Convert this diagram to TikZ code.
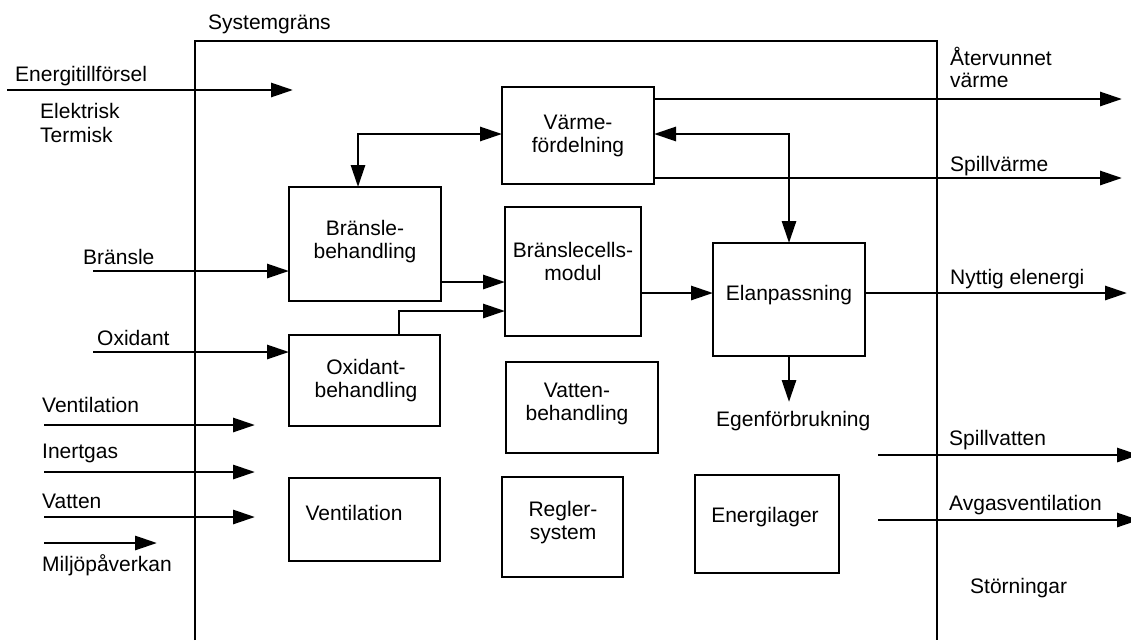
\documentclass[tikz,border=0pt]{standalone}
\usepackage{fontspec}
\setmainfont{Liberation Sans}
\usetikzlibrary{arrows.meta}

\tikzset{
  blk/.style={draw, line width=2.9pt, inner sep=0pt, outer sep=0pt},
  txt/.style={align=center, inner sep=0pt, font=\fontsize{21}{23}\selectfont},
  lbl/.style={anchor=base west, inner sep=0pt, font=\fontsize{21}{23}\selectfont},
  arr/.style={line width=2.9pt, -{Triangle[length=22pt,width=14pt]}},
  dbl/.style={line width=2.9pt, {Triangle[length=22pt,width=14pt]}-{Triangle[length=22pt,width=14pt]}},
}

\begin{document}
\begin{tikzpicture}[x=1pt,y=-1pt]
\useasboundingbox (0,0) rectangle (1131,640);

% System boundary
\draw[line width=2.9pt] (195,640) -- (195,41) -- (937,41) -- (937,640);
\node[lbl] (sg) at (208,29) {Systemgräns};

% Boxes
\node[blk, minimum width=152pt, minimum height=97pt] (vf) at (578,135.5) {};
\node[blk, minimum width=152pt, minimum height=114pt] (bb) at (365,244) {};
\node[blk, minimum width=136pt, minimum height=129pt] (bm) at (573,271.5) {};
\node[blk, minimum width=151pt, minimum height=91pt] (ob) at (364.5,380.5) {};
\node[blk, minimum width=152pt, minimum height=113pt] (el) at (789,299.5) {};
\node[blk, minimum width=152pt, minimum height=91pt] (vb) at (582,407.5) {};
\node[blk, minimum width=151pt, minimum height=83pt] (ve) at (364.5,519.5) {};
\node[blk, minimum width=121pt, minimum height=100pt] (rs) at (562.5,527) {};
\node[blk, minimum width=144pt, minimum height=98pt] (eg) at (767,524) {};

% Box texts
\node[txt] (vft) at (578,136) {Värme-\\fördelning};
\node[txt] (bbt) at (365,241.5) {Bränsle-\\behandling};
\node[txt] (bmt) at (573,261.5) {Bränslecells-\\modul};
\node[txt] (obt) at (366,381) {Oxidant-\\behandling};
\node[txt] (elt) at (789,295) {Elanpassning};
\node[txt] (vbt) at (577,403.5) {Vatten-\\behandling};
\node[txt] (vet) at (354,513) {Ventilation};
\node[txt] (rst) at (563,522.5) {Regler-\\system};
\node[txt] (egt) at (765,517) {Energilager};

% Inflows
\coordinate (ein) at (7,90);
\coordinate (eout) at (293,90);
\coordinate (bin) at (93,271);
\coordinate (oin) at (93,352);
\coordinate (vin) at (44,425);
\coordinate (vout) at (255,425);
\coordinate (iin) at (44,472);
\coordinate (iout) at (255,472);
\coordinate (wain) at (44,517);
\coordinate (waout) at (255,517);
\coordinate (min) at (44,543);
\coordinate (mout) at (157,543);

\draw[arr] (ein) -- (eout);
\draw[arr] (bin) -- (bin -| bb.west);
\draw[arr] (oin) -- (oin -| ob.west);
\draw[arr] (vin) -- (vout);
\draw[arr] (iin) -- (iout);
\draw[arr] (wain) -- (waout);
\draw[arr] (min) -- (mout);

\node[lbl] (et) at (15,81) {Energitillförsel};
\node[lbl] (ek) at (40,118) {Elektrisk};
\node[lbl] (tm) at (40,142) {Termisk};
\node[lbl] (br) at (83,264) {Bränsle};
\node[lbl] (ox) at (97,345) {Oxidant};
\node[lbl] (vl) at (42,412) {Ventilation};
\node[lbl] (ig) at (42,458) {Inertgas};
\node[lbl] (vt) at (42,508) {Vatten};
\node[lbl] (mp) at (42,571) {Miljöpåverkan};

% Internal flows
\coordinate (bbo) at ([yshift=-38pt]bb.east);
\coordinate (obo) at ([xshift=34.5pt]ob.north);
\coordinate (bmi) at ([yshift=-39.5pt]bm.west);
\coordinate (bmo) at ([yshift=-21.5pt]bm.east);
\draw[arr] (bbo) -- (bbo -| bm.west);
\draw[arr] (obo) |- (bmi);
\draw[arr] (bmo) -- (bmo -| el.west);
\draw[dbl] ([xshift=-7pt]bb.north) |- ([yshift=1.5pt]vf.west);
\draw[dbl] ([yshift=1.5pt]vf.east) -| (el.north);

% Outflows
\coordinate (vfa) at ([yshift=-12pt]vf.north east);
\coordinate (vfs) at ([yshift=6pt]vf.south east);
\coordinate (elo) at ([yshift=6.5pt]el.east);
\coordinate (atv) at (1122,99);
\coordinate (spv) at (1122,178);
\coordinate (nyt) at (1127,293);
\coordinate (egf) at (789,402);
\coordinate (svin) at (878,455);
\coordinate (svout) at (1139,455);
\coordinate (avin) at (878,520);
\coordinate (avout) at (1139,520);

\draw[arr] (vfa) -- (atv);
\draw[arr] (vfs) -- (spv);
\draw[arr] (elo) -- (nyt);
\draw[arr] (el.south) -- (egf);
\draw[arr] (svin) -- (svout);
\draw[arr] (avin) -- (avout);

\node[lbl] (av1) at (950,65) {Återvunnet};
\node[lbl] (av2) at (950,87) {värme};
\node[lbl] (sp) at (950,171) {Spillvärme};
\node[lbl] (ny) at (950,284) {Nyttig elenergi};
\node[lbl] (ef) at (716,426) {Egenförbrukning};
\node[lbl] (sv) at (949,445) {Spillvatten};
\node[lbl] (ag) at (949,510) {Avgasventilation};
\node[lbl] (st) at (970,593) {Störningar};
\end{tikzpicture}
\end{document}
